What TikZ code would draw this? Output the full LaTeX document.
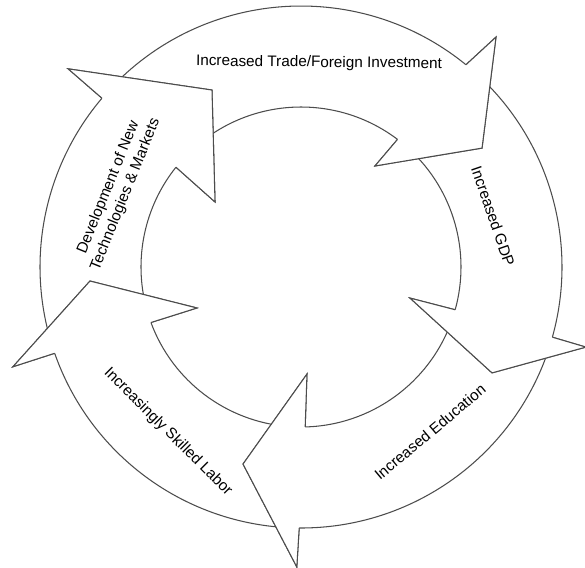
\documentclass[tikz,border=0pt]{standalone}
\usepackage{fontspec}
\setmainfont{Liberation Sans}
\usepackage{tikz}
\usetikzlibrary{shapes,arrows}

\begin{document}
\begin{tikzpicture}[scale=0.02,
  ring/.style={draw=black!70,line width=0.6pt,line join=miter},
  lbl/.style={font=\fontsize{8.7}{10.5}\selectfont,inner sep=0pt,align=center}]
\useasboundingbox (-301,-300) rectangle (284,267);
\draw[ring] (136:261) arc[start angle=136,end angle=50.8,radius=261] -- (49.7:301.5) -- (33.3:216.6) -- (53.8:125.2) -- (52.9:160) arc[start angle=52.9,end angle=132,radius=160] -- cycle;
\draw[ring] (47:261) arc[start angle=47,end angle=-15.6,radius=261] -- (-15.7:296) -- (-29:218.4) -- (-15.9:113.3) -- (-15.5:160) arc[start angle=-15.5,end angle=47,radius=160] -- cycle;
\draw[ring] (-18.5:261) arc[start angle=-18.5,end angle=-90.4,radius=261] -- (-90.8:300) -- (-106.4:205.4) -- (-86.8:107.2) -- (-88.5:160) arc[start angle=-88.5,end angle=-20,radius=160] -- cycle;
\draw[ring] (267:261) arc[start angle=267,end angle=199.3,radius=261] -- (199.1:304.9) -- (183.8:211.5) -- (201.5:111.8) -- (200.3:160) arc[start angle=200.3,end angle=265.5,radius=160] -- cycle;
\draw[ring] (196.5:261) arc[start angle=196.5,end angle=139.7,radius=261] -- (139.6:305.8) -- (116.7:198.1) -- (142.9:107.8) -- (141.4:160) arc[start angle=141.4,end angle=195,radius=160] -- cycle;
\fill[white] (50.8:261) -- (49.7:301.5) -- (33.3:216.6) -- (53.8:125.2) -- (52.9:160) -- cycle;
\draw[ring] (50.8:261) -- (49.7:301.5) -- (33.3:216.6) -- (53.8:125.2) -- (52.9:160);
\fill[white] (-15.6:261) -- (-15.7:296) -- (-29:218.4) -- (-15.9:113.3) -- (-15.5:160) -- cycle;
\draw[ring] (-15.6:261) -- (-15.7:296) -- (-29:218.4) -- (-15.9:113.3) -- (-15.5:160);
\fill[white] (-90.4:261) -- (-90.8:300) -- (-106.4:205.4) -- (-86.8:107.2) -- (-88.5:160) -- cycle;
\draw[ring] (-90.4:261) -- (-90.8:300) -- (-106.4:205.4) -- (-86.8:107.2) -- (-88.5:160);
\fill[white] (199.3:261) -- (199.1:304.9) -- (183.8:211.5) -- (201.5:111.8) -- (200.3:160) -- cycle;
\draw[ring] (199.3:261) -- (199.1:304.9) -- (183.8:211.5) -- (201.5:111.8) -- (200.3:160);
\fill[white] (139.7:261) -- (139.6:305.8) -- (116.7:198.1) -- (142.9:107.8) -- (141.4:160) -- cycle;
\draw[ring] (139.7:261) -- (139.6:305.8) -- (116.7:198.1) -- (142.9:107.8) -- (141.4:160);
\node[lbl,rotate=-0.6,anchor=base] (trade) at (18,200) {Increased Trade/Foreign Investment};
\node[lbl,rotate=-71] (gdp) at (192,51) {Increased GDP};
\node[lbl,rotate=40] (educ) at (129,-165) {Increased Education};
\node[lbl,rotate=-45] (labor) at (-133,-165) {Increasingly Skilled Labor};
\node[lbl,rotate=68] (devel) at (-184,76) {Development of New\\Technologies \& Markets};
\end{tikzpicture}
\end{document}
